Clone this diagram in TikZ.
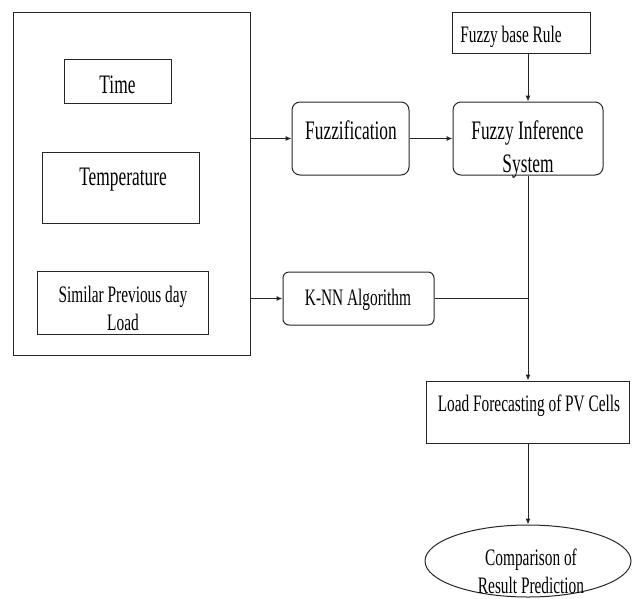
\documentclass[tikz,border=0pt]{standalone}
\usepackage{fontspec}
\setmainfont[FakeStretch=0.65]{Liberation Serif}
\usetikzlibrary{arrows.meta,shapes.geometric}
\begin{document}
\begin{tikzpicture}[x=1pt,y=-1pt,
  line/.style={draw=black!85, line width=1pt},
  box/.style={line, rectangle, inner sep=0pt},
  rbox/.style={box, rounded corners=8pt},
  txt/.style={inner sep=0pt, anchor=base, font=\fontsize{23.6}{28}\selectfont},
  bigtxt/.style={txt, font=\fontsize{26.7}{30}\selectfont},
  arr/.style={line, -{Latex[length=6pt,width=5pt]}}]
\useasboundingbox (0,0) rectangle (636,598);
% boxes
\node[box, minimum width=237pt, minimum height=343pt] (inputs) at (131.5,183.5) {};
\node[box, minimum width=107pt, minimum height=44pt] (time) at (117.5,81) {};
\node[box, minimum width=157pt, minimum height=71pt] (temp) at (120.5,187.5) {};
\node[box, minimum width=171pt, minimum height=63pt] (sim) at (122.5,302.5) {};
\node[rbox, minimum width=117pt, minimum height=73pt] (fuzz) at (350.5,138.5) {};
\node[rbox, minimum width=150pt, minimum height=73pt] (fis) at (528,138.5) {};
\node[box, minimum width=138pt, minimum height=41pt] (fbr) at (521,32.5) {};
\node[rbox, rounded corners=6pt, minimum width=151pt, minimum height=53pt] (knn) at (358.5,298.5) {};
\node[box, minimum width=203pt, minimum height=62pt] (lf) at (528,412) {};
\node[line, ellipse, inner sep=0pt, minimum width=206pt, minimum height=72pt] (res) at (528,561) {};
% texts
\node[bigtxt] (ttime) at (117.5,93) {Time};
\node[bigtxt] (ttemp) at (123,185) {Temperature};
\node[txt] (tsim1) at (123,302) {Similar Previous day};
\node[txt] (tsim2) at (123,330) {Load};
\node[bigtxt] (tfuzz) at (351,139) {Fuzzification};
\node[bigtxt] (tfis1) at (527.5,139) {Fuzzy Inference};
\node[bigtxt] (tfis2) at (528,172) {System};
\node[txt] (tfbr) at (511,42) {Fuzzy base Rule};
\node[txt] (tknn) at (358,305) {K-NN Algorithm};
\node[txt] (tlf) at (529,411) {Load Forecasting of PV Cells};
\node[txt] (tres1) at (531,565) {Comparison of};
\node[txt] (tres2) at (531,593) {Result Prediction};
% connectors
\draw[arr] (inputs.east |- fuzz.center) -- (fuzz.west);
\draw[arr] (fuzz.east) -- (fis.west);
\draw[arr] (fis.north |- fbr.south) -- (fis.north);
\draw[arr] (inputs.east |- knn.center) -- (knn.west);
\coordinate (j) at (fis.south |- knn.center);
\draw[line] (knn.east) -- (j);
\draw[arr] (fis.south) -- (lf.north);
\draw[arr] (lf.south) -- (res.north);
\end{tikzpicture}
\end{document}
